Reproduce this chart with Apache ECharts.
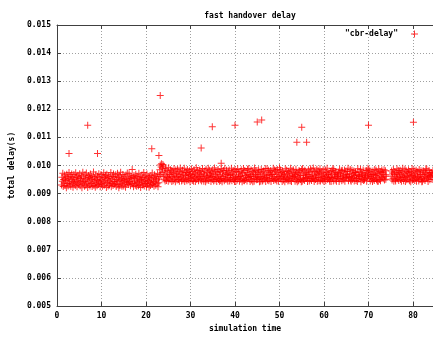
<!DOCTYPE html>
<html>
<head>
<meta charset="utf-8">
<script src="https://cdn.jsdelivr.net/npm/echarts@6/dist/echarts.min.js"></script>
<style>
html,body{margin:0;padding:0;background:#fff}
#chart{width:433px;height:338px}
</style>
</head>
<body>
<div id="chart"></div>
<script>
// delays below are in units of 1e-5 s, one packet every 0.1 s
const segAStart = 1.0
const segA = [
931,958,944,972,925,950,938,966,929,955,
947,921,969,936,960,927,953,975,941,933,
962,926,949,970,935,957,923,944,968,939,
952,929,974,942,960,924,948,965,932,956,
937,971,928,954,946,963,921,940,976,934,
959,943,926,967,951,930,973,938,955,922,
945,964,933,957,927,970,949,936,961,925,
953,940,977,929,958,944,923,966,935,950,
928,962,947,932,971,939,956,924,945,968,
934,951,926,960,942,974,930,957,937,965,
948,922,969,939,954,927,963,946,931,959,
941,975,924,952,936,961,929,970,943,933,
956,938,967,925,950,944,972,932,958,921,
963,930,947,976,935,955,926,942,968,951,
927,960,939,953,923,966,946,934,973,940,
949,932,971,943,958,928,954,962,937,986,
935,957,924,964,941,952,930,969,945,926,
961,939,955,928,972,946,933,959,922,950,
944,966,931,957,938,975,927,948,963,936,
953,925,970,942,934,960,947,923,958,940,
929,964,951,937,973,932,956,944,926,967,
941,955,930,962,948,935,971,924,952,939,
960]
const segBStart = 23.1
const segB = [
985,1002,968,995,1006,975,990,1004,962,998,
951,978,945,988,963,947,982,957,970,944,
992,955,968,949,985,961,976,943,980,958,
946,973,989,952,966,942,984,959,971,948,
987,962,950,979,944,967,991,956,974,945,
960,983,948,969,953,990,943,977,964,951,
975,946,986,958,972,949,965,981,942,968,
954,988,961,947,979,966,944,985,957,973,
943,970,992,950,963,982,955,946,976,961,
984,949,967,978,945,959,989,952,971,944,
966,980,953,942,987,962,948,975,958,990,
947,964,983,956,970,943,978,961,950,985,
972,945,959,991,948,967,980,954,943,976,
958,986,950,969,944,979,963,947,988,955,
942,974,961,982,953,946,990,966,951,971,
983,949,968,944,977,957,984,945,964,952,
969,990,946,973,958,981,950,967,943,986,
955,943,979,962,948,988,956,974,960,944,
978,961,951,985,966,942,972,953,989,947,
946,982,964,950,975,959,945,987,968,957,
989,952,970,943,961,984,948,963,979,942,
962,976,944,991,954,968,982,949,958,973,
950,967,985,956,942,978,961,944,986,953,
974,945,960,980,949,970,955,989,943,965,
957,988,948,966,983,946,976,952,969,981,
943,963,977,954,968,990,947,960,984,951,
980,949,969,945,986,958,973,944,962,992,
955,984,952,975,961,943,979,966,948,970,
966,942,988,957,950,983,954,971,945,978,
948,976,961,946,990,965,943,980,956,963,
985,953,972,960,944,968,987,949,975,942,
959,970,946,982,955,978,950,964,942,986,
944,989,965,951,973,947,983,958,970,954,
977,956,943,968,985,962,945,976,952,988,
961,947,980,955,966,991,953,943,979,965,
950,973,958,987,944,969,981,957,946,974,
988,945,971,952,978,960,948,985,963,943,
953,966,984,946,962,975,990,951,968,957,
972,951,944,979,957,943,967,982,954,989,
945,985,962,970,948,976,958,944,973,960,
967,954,976,943,987,952,971,963,981,946,
983,960,949,965,953,984,944,978,957,969,
956,979,967,990,946,961,955,970,986,948,
944,962,983,951,972,957,980,945,964,975,
976,947,954,968,943,988,963,953,978,959,
961,987,942,974,965,950,969,984,947,955,
949,971,965,958,982,944,976,960,990,966,
985,955,978,945,961,973,952,968,943,980,
952,968,947,986,956,964,983,949,972,944,
970,944,988,963,950,979,946,975,959,984,
958,977,953,969,985,948,962,981,951,967]
const segCStart = 75.1
const segC = [
962,980,948,973,955,986,944,968,977,951,
945,971,959,988,953,966,982,947,975,960,
983,950,969,944,978,957,990,963,946,972,
956,987,943,965,980,949,961,976,952,985,
970,946,979,958,942,974,964,989,948,967,
951,984,962,947,971,955,983,944,977,960,
978,957,945,986,963,950,968,981,953,942,
944,969,981,952,976,960,947,973,988,958,
987,953,966,943,959,982,971,949,964,975,
960,975,950,968,983,947]
// late packets: [time, delay (s)]
const outliers = [
[2.7,0.01043],[6.9,0.01143],[9.1,0.01043],[21.3,0.01060],[22.9,0.01036],
[23.2,0.01249],[32.4,0.01062],[34.9,0.01138],[36.9,0.01008],[40.0,0.01143],
[45.0,0.01155],[46.0,0.01162],[53.9,0.01083],[55.0,0.01136],[56.1,0.01083],
[70.0,0.01143],[80.1,0.01154]]
const yTicks = {min:0.005,max:0.015,step:0.001}
const xTicks = {min:0,max:84.5,step:10}

function seg(start,vals){
    return vals.map((v,i)=>[+(start+i*0.1).toFixed(1), v/1e5])
}
const pts = seg(segAStart,segA).concat(seg(segBStart,segB),seg(segCStart,segC),outliers)

const font = 'DejaVu Sans Mono'
const plus = 'path://M3,0h1v3h3v1h-3v3h-1v-3h-3v-1h3z'
const txt = {fontFamily:font,fontWeight:'bold',fontSize:8,color:'#000'}
const grid = {show:true,lineStyle:{color:'#a0a0a0',type:[1,2],width:1}}

let chart = echarts.init(document.getElementById('chart'))
chart.setOption({
    animation:false,
    backgroundColor:'#fff',
    title:{
        text:'fast handover delay',
        left:245, top:7,
        textAlign:'center',
        textStyle:txt
    },
    legend:{
        right:10, top:25,
        align:'right',
        icon:plus,
        itemWidth:7, itemHeight:7,
        textStyle:Object.assign({},txt,{padding:[0,8,0,0]}),
        data:['"cbr-delay"']
    },
    grid:{left:57,right:0,top:25,bottom:32},
    xAxis:[{
        type:'value',
        min:xTicks.min, max:xTicks.max, interval:xTicks.step,
        name:'simulation time',
        nameLocation:'middle', nameGap:19,
        nameTextStyle:txt,
        axisLine:{lineStyle:{color:'#404040'}},
        axisTick:{inside:true,length:4,lineStyle:{color:'#404040'}},
        axisLabel:Object.assign({},txt,{margin:6,showMaxLabel:false}),
        splitLine:grid
    },{
        type:'value', position:'top',
        min:xTicks.min, max:xTicks.max, interval:xTicks.step,
        axisLine:{lineStyle:{color:'#404040'}},
        axisTick:{inside:true,length:4,lineStyle:{color:'#404040'}},
        axisLabel:{show:false},
        splitLine:{show:false}
    }],
    yAxis:{
        type:'value',
        min:yTicks.min, max:yTicks.max, interval:yTicks.step,
        name:'total delay(s)',
        nameLocation:'middle', nameGap:40,
        nameTextStyle:txt,
        axisLine:{show:true,lineStyle:{color:'#404040'}},
        axisTick:{show:true,inside:true,length:4,lineStyle:{color:'#404040'}},
        axisLabel:Object.assign({},txt,{margin:6,formatter:v=>v.toFixed(3)}),
        splitLine:grid
    },
    series:[{
        name:'"cbr-delay"',
        type:'scatter',
        symbol:plus,
        symbolSize:7,
        itemStyle:{color:'#ff0000'},
        data:pts
    }]
})
</script>
</body>
</html>
